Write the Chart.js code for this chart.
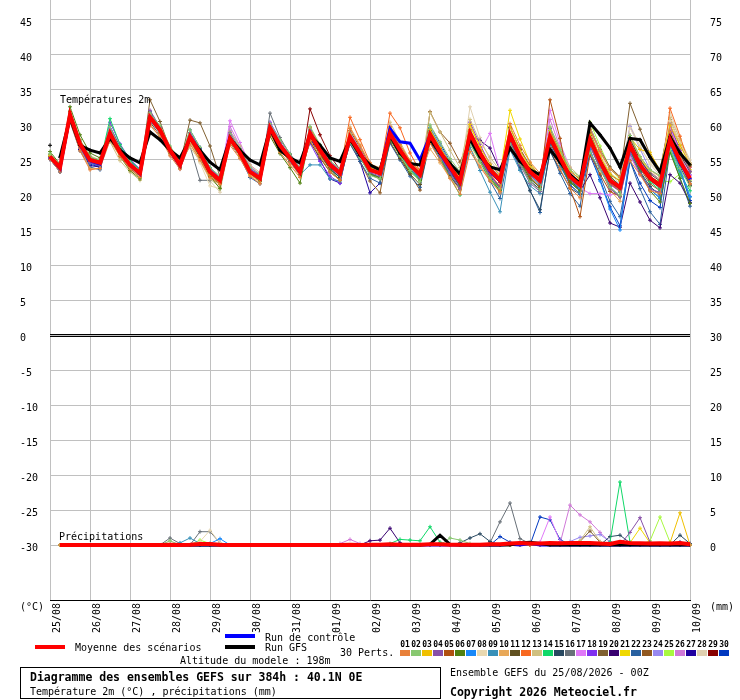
<!DOCTYPE html>
<html><head><meta charset="utf-8">
<script src="https://cdn.jsdelivr.net/npm/chart.js@4.4.1/dist/chart.umd.min.js"></script>
<style>html,body{margin:0;padding:0;background:#fff}canvas{display:block}</style>
</head><body>
<canvas id="c" width="740" height="700"></canvas>
<script>
const dayLabels = ['25/08','26/08','27/08','28/08','29/08','30/08','31/08','01/09','02/09','03/09','04/09','05/09','06/09','07/09','08/09','09/09','10/09'];
const hours = [0,6,12,18,24,30,36,42,48,54,60,66,72,78,84,90,96,102,108,114,120,126,132,138,144,150,156,162,168,174,180,186,192,198,204,210,216,222,228,234,240,246,252,258,264,270,276,282,288,294,300,306,312,318,324,330,336,342,348,354,360,366,372,378,384];
const leftTicks = [-30,-25,-20,-15,-10,-5,0,5,10,15,20,25,30,35,40,45];
const rightTicks = [0,5,10,15,20,25,30,35,40,45,50,55,60,65,70,75];

const tMean = [25.5,23.9, 31.5,27.3,25.0,24.6, 28.8,26.1,24.3,23.1, 31.1,29.3,26.4,24.3, 28.3,26.0,23.3,22.1, 28.1,26.0,23.3,22.4, 29.6,27.1,25.3,23.3, 28.8,26.4,24.3,23.1, 28.3,26.0,23.6,23.1, 28.8,26.4,24.3,22.9, 28.6,26.2,24.0,21.9, 28.8,26.0,23.6,22.1, 28.6,25.5,23.3,22.1, 28.3,25.3,22.6,21.4, 27.9,24.8,22.1,21.1, 27.1,24.3,22.4,21.4, 27.9,24.8,22.4];
const tGfs = [27.1,25.4, 31.0,27.1,26.4,26.0, 28.1,26.4,25.3,24.6, 29.0,27.9,26.4,25.3, 28.0,26.4,24.7,23.6, 28.1,26.4,25.0,24.3, 29.5,26.4,25.3,24.6, 28.5,27.1,25.3,24.8, 28.0,25.7,24.3,23.6, 28.5,26.0,24.5,24.3, 28.0,26.0,24.5,23.0, 28.0,25.5,24.0,23.6, 26.7,24.8,23.6,22.9, 26.5,24.7,22.9,21.7, 30.3,28.6,26.7,24.0, 28.1,27.9,25.4,23.3, 28.3,26.0,24.3];
const tCtl = [25.5,23.8, 31.4,27.2,24.9,24.4, 28.8,26.2,24.3,23.0, 31.0,29.2,26.3,24.2, 28.3,26.0,23.3,22.1, 28.2,26.0,23.3,22.4, 29.5,27.0,25.2,23.2, 28.8,26.4,24.2,23.0, 28.3,26.0,23.6,23.1, 29.5,27.6,27.4,25.0, 28.5,26.0,23.8,21.8, 28.6,25.8,23.4,22.0, 28.4,25.4,23.2,22.0, 28.2,25.2,22.6,21.4, 28.0,24.8,22.0,21.0, 27.0,24.2,22.4,21.4, 27.8,24.6,22.2];

const t01 = [25.1,23.3, 30.5,26.3,23.6,23.8, 27.8,25.5,23.7,22.5, 30.1,28.3,25.6,23.7, 27.3,25.0,22.5,21.5, 27.1,25.2,22.7,21.6, 28.8,26.1,24.3,22.5, 27.8,25.6,23.3,22.1, 29.5,27.0,24.4,23.7, 29.8,27.2,24.9,23.5, 27.4,25.0,22.4,20.1, 26.2,24.0,22.0,20.5, 30.2,27.1,24.7,23.1, 26.7,23.7,21.0,19.6, 29.3,26.2,23.7,22.5, 24.9,22.9,20.6,20.2, 29.1,25.8,21.6];
const t02 = [25.9,24.3, 32.1,27.9,25.4,25.0, 29.8,26.7,24.7,23.5, 31.7,29.9,27.0,24.9, 29.3,26.8,23.9,22.7, 28.7,26.6,23.9,23.0, 30.2,27.9,25.9,23.9, 29.8,27.2,24.9,23.7, 27.5,25.4,22.8,22.3, 28.2,25.6,23.5,21.9, 30.0,27.6,25.2,23.3, 27.2,24.8,22.4,20.9, 27.4,24.5,21.9,20.7, 29.7,26.5,23.6,22.6, 26.1,23.6,21.1,19.9, 28.5,25.5,23.6,22.8, 26.5,23.8,21.2];
const t03 = [25.6,24.0, 31.4,27.2,24.9,24.5, 28.6,26.0,24.2,23.0, 30.8,29.0,26.2,24.1, 27.9,25.7,23.0,21.9, 27.8,25.7,23.0,22.2, 29.4,26.9,25.1,23.1, 28.5,26.2,24.1,22.9, 28.7,26.3,23.9,23.5, 29.6,27.1,24.9,23.4, 29.4,26.8,24.6,22.5, 30.1,26.9,24.4,22.9, 29.8,26.4,24.0,22.8, 29.2,26.0,23.4,22.3, 28.6,25.6,23.0,22.0, 28.2,26.5,26.1,23.5, 30.0,27.1,24.3];
const t04 = [25.3,23.7, 31.1,26.7,24.6,24.2, 29.2,26.3,24.5,23.3, 32.1,29.7,26.6,24.5, 28.9,26.4,23.7,22.5, 28.9,26.6,23.7,22.8, 30.0,27.5,25.5,23.5, 29.2,26.8,24.7,23.5, 27.7,25.6,23.2,22.7, 29.0,26.8,24.5,22.5, 27.8,25.6,23.2,20.9, 28.0,25.2,22.8,21.1, 27.2,24.3,21.7,20.5, 29.5,25.7,23.0,21.8, 27.1,23.8,20.9,19.7, 25.9,23.1,20.8,20.4, 30.1,26.4,23.4];
const t05 = [25.5,24.0, 31.9,27.5,25.1,24.7, 28.5,25.9,24.1,22.9, 30.9,28.9,26.1,24.0, 28.0,25.6,22.9,21.7, 28.0,25.8,23.1,22.1, 29.4,26.9,25.0,23.0, 28.5,26.1,24.0,22.8, 28.4,26.2,23.7,23.2, 29.0,26.6,24.4,22.8, 28.9,26.6,24.3,22.2, 29.3,26.4,24.0,22.5, 28.0,25.0,22.6,21.2, 33.6,28.1,21.0,16.9, 25.8,23.0,20.5,19.8, 27.5,24.6,22.7,21.7, 28.6,25.1,21.6];
const t06 = [26.2,24.4, 32.6,28.6,26.0,25.3, 28.4,25.5,23.5,22.3, 30.9,28.9,26.0,24.1, 27.9,25.6,22.7,20.9, 27.7,25.6,23.1,22.0, 28.4,25.9,23.9,21.7, 28.4,25.8,23.7,22.1, 28.1,25.6,23.0,22.5, 28.0,25.6,23.3,22.1, 29.2,26.6,23.6,21.3, 27.8,25.0,22.4,20.7, 28.2,24.9,22.3,21.1, 27.7,24.7,21.8,20.6, 28.5,25.2,22.7,21.3, 26.5,23.3,20.6,19.0, 26.1,22.4,18.8];
const t07 = [25.3,23.5, 31.2,27.0,24.6,24.2, 29.2,26.4,24.6,23.4, 31.3,29.4,26.5,24.5, 28.5,26.1,23.4,22.3, 28.3,26.2,23.5,22.5, 29.8,27.3,25.5,23.5, 29.2,26.8,24.7,23.4, 28.7,26.4,23.9,23.3, 29.4,26.9,24.7,23.0, 29.6,27.0,24.6,22.1, 29.0,26.2,23.7,22.0, 28.2,25.0,22.8,21.4, 28.6,25.4,22.4,20.9, 26.6,22.0,18.0,15.0, 26.4,23.2,20.8,19.6, 27.4,23.8,19.8];
const t08 = [25.6,24.0, 31.6,27.4,25.0,24.5, 28.4,25.7,24.0,22.8, 30.7,28.6,25.8,23.7, 27.5,24.6,21.3,20.9, 27.6,25.4,22.8,21.8, 29.5,27.0,25.2,23.2, 28.8,26.4,24.3,23.2, 28.6,26.3,23.9,23.4, 29.4,27.0,24.7,23.1, 29.8,27.0,24.5,22.4, 29.5,26.6,24.2,22.6, 29.4,26.2,23.9,22.6, 28.8,25.8,23.2,22.0, 28.4,25.4,22.8,21.7, 29.6,26.8,24.6,23.2, 30.6,27.4,24.6];
const t09 = [25.4,23.7, 31.0,26.9,24.7,24.3, 28.4,25.9,24.1,22.9, 30.6,28.7,26.0,24.0, 28.0,25.7,23.0,21.9, 28.0,25.9,23.2,22.3, 29.2,26.7,24.9,22.9, 24.3,24.3,22.3,22.0, 27.6,25.3,23.0,22.5, 28.4,26.0,23.8,22.4, 28.0,25.5,23.1,20.9, 26.8,23.5,20.4,17.6, 26.5,23.5,21.3,20.2, 27.0,24.2,21.5,20.2, 27.2,24.0,21.2,19.8, 26.2,23.2,20.8,19.5, 26.8,23.4,19.7];
const t10 = [25.5,23.7, 30.9,26.7,23.8,23.8, 28.6,25.9,23.9,22.7, 31.5,29.5,26.8,24.7, 27.7,25.0,22.7,21.7, 27.7,25.6,22.9,22.0, 29.0,26.5,24.7,22.7, 29.2,26.8,24.5,23.3, 29.7,27.2,24.4,23.9, 29.2,27.0,24.7,22.9, 26.6,24.6,22.4,20.7, 26.8,24.2,22.2,20.3, 29.2,26.1,23.9,22.7, 28.7,25.5,22.4,21.0, 27.3,24.0,20.7,19.1, 28.5,25.3,23.6,22.6, 30.5,27.6,24.4];
const t11 = [25.7,24.2, 30.9,27.7,25.4,24.9, 28.0,25.6,23.8,22.6, 30.4,28.6,25.8,23.8, 27.6,25.4,22.7,21.5, 27.4,25.5,22.8,21.9, 29.0,26.6,24.7,22.8, 27.6,25.3,23.3,22.1, 27.7,25.4,22.9,22.3, 27.6,25.2,23.0,21.5, 27.6,25.5,22.8,20.8, 28.2,25.0,22.4,21.0, 29.6,26.3,23.9,22.5, 27.6,24.9,22.0,20.9, 28.9,25.4,22.9,22.0, 27.9,25.1,23.0,22.0, 29.0,25.8,23.3];
const t12 = [25.5,23.9, 31.6,27.4,25.0,24.6, 29.0,26.3,24.4,23.2, 31.0,29.2,26.3,24.2, 28.4,26.1,23.3,22.1, 28.2,26.1,23.4,22.5, 29.7,27.2,25.3,23.3, 29.6,27.0,24.7,23.4, 31.1,27.9,24.6,23.5, 31.7,29.6,26.0,23.4, 28.8,26.3,24.0,21.6, 28.1,25.3,22.9,21.3, 28.3,25.2,22.8,21.6, 28.8,25.6,22.8,21.5, 27.3,24.2,21.6,20.6, 27.5,24.5,22.4,21.3, 32.4,28.4,24.0];
const t13 = [25.7,24.3, 31.9,27.9,25.6,25.0, 27.6,24.9,23.3,22.1, 29.9,28.3,26.0,24.5, 26.9,24.8,22.3,21.1, 29.1,27.0,24.3,23.2, 29.4,26.9,24.9,23.1, 27.8,25.4,23.3,22.1, 28.7,26.2,23.8,23.3, 30.4,27.6,24.9,23.1, 31.8,29.0,26.4,23.9, 30.8,27.6,25.4,23.5, 29.0,26.1,23.7,22.5, 29.7,26.7,24.0,22.6, 29.7,26.4,23.7,22.5, 28.1,25.5,23.4,22.2, 31.1,28.0,24.6];
const t14 = [25.7,24.1, 31.3,27.3,25.0,24.5, 30.9,27.2,25.0,23.6, 31.2,29.3,26.5,24.4, 28.6,26.2,23.4,22.2, 28.3,26.0,23.3,22.5, 29.5,27.0,25.1,23.1, 29.3,26.6,24.3,23.0, 28.4,26.2,23.8,23.0, 28.6,26.0,23.6,22.2, 28.0,25.3,22.6,20.0, 27.8,24.8,22.3,20.6, 29.4,26.0,23.3,21.6, 27.8,24.6,22.0,20.6, 28.0,24.8,22.0,20.4, 27.2,24.1,21.9,20.7, 26.4,23.0,20.6];
const t15 = [25.4,23.7, 31.1,26.9,24.6,24.1, 28.5,25.8,24.0,22.8, 30.6,28.6,26.0,23.9, 27.9,25.6,23.0,21.8, 27.8,25.6,23.0,22.1, 29.0,26.6,24.8,22.8, 28.3,25.9,23.7,22.5, 27.8,25.5,23.1,22.5, 28.2,25.8,23.7,22.2, 28.4,25.8,23.4,21.2, 28.0,25.2,22.8,21.2, 27.4,24.0,20.6,17.9, 26.2,23.6,21.0,20.1, 27.4,24.2,21.6,20.6, 26.4,23.4,21.2,20.0, 27.6,24.0,21.4];
const t16 = [25.5,23.9, 31.4,27.2,24.9,24.5, 28.9,26.1,24.3,23.1, 31.4,29.4,26.5,24.4, 27.0,22.1,22.1,22.4, 28.0,25.9,23.2,22.3, 31.7,28.2,25.8,23.6, 29.1,26.6,24.4,23.2, 28.0,25.8,23.5,23.0, 28.6,26.3,24.2,22.8, 29.0,26.5,24.1,22.0, 28.8,25.8,23.4,21.9, 28.0,24.8,22.4,21.0, 27.6,24.6,21.8,20.6, 28.2,24.9,22.3,21.1, 27.0,24.0,22.2,21.0, 27.8,24.5,21.9];
const t17 = [25.6,24.0, 31.6,27.5,25.2,24.7, 29.4,26.5,24.6,23.3, 31.5,29.5,26.6,24.5, 28.6,26.3,23.6,22.4, 30.6,27.5,24.3,22.9, 30.2,27.6,25.6,23.6, 29.4,27.0,24.8,23.5, 28.8,26.5,24.1,23.6, 29.8,27.2,24.9,23.3, 29.2,26.8,24.4,22.2, 27.6,26.2,28.8,23.4, 28.4,25.4,23.0,21.8, 32.1,27.4,23.9,21.0, 20.2,20.2,20.0,20.4, 27.8,24.8,22.8,21.6, 29.6,26.2,22.8];
const t18 = [25.3,23.6, 30.9,26.9,24.6,24.2, 30.4,27.3,25.1,23.7, 30.5,28.5,25.8,23.7, 28.5,26.0,23.3,21.9, 28.7,26.4,23.7,22.8, 30.4,27.9,25.9,23.9, 27.4,24.8,22.7,21.7, 28.5,26.0,23.4,22.9, 29.4,26.8,24.5,22.9, 28.4,25.8,23.2,21.3, 30.4,27.2,24.4,22.7, 28.8,25.7,23.3,21.9, 28.1,25.1,22.6,21.4, 27.7,24.4,21.5,20.5, 28.1,24.9,23.2,22.2, 29.7,26.2,24.0];
const t19 = [25.6,24.0, 31.5,27.3,25.1,24.6, 28.7,26.0,24.2,23.0, 33.6,30.5,26.6,24.4, 30.7,30.3,27.0,22.6, 28.2,26.1,23.4,22.4, 29.6,27.1,25.3,23.3, 28.8,26.4,24.3,23.1, 29.2,26.8,24.2,23.6, 29.5,26.9,24.6,23.2, 29.5,27.0,24.6,22.6, 29.0,26.2,23.7,22.2, 29.6,26.6,24.2,22.8, 29.2,26.2,23.5,22.2, 29.4,26.5,24.0,22.6, 33.1,29.4,25.8,23.6, 30.8,27.2,24.6];
const t20 = [25.5,23.9, 31.6,27.3,25.0,24.5, 28.9,26.2,24.4,23.2, 31.1,29.2,26.4,24.3, 28.1,25.8,23.2,22.0, 27.8,25.7,23.0,22.2, 29.4,27.0,25.2,23.2, 28.9,26.5,24.4,23.2, 28.1,25.9,23.6,23.0, 28.8,26.5,24.3,22.8, 28.4,26.0,23.9,22.0, 28.5,27.8,26.7,23.6, 27.6,24.6,22.0,20.8, 27.2,24.2,21.8,20.6, 22.9,19.6,16.0,15.4, 21.7,19.0,16.4,15.3, 22.9,21.7,18.9];
const t21 = [25.5,23.9, 31.4,27.1,24.7,24.4, 28.6,26.0,24.2,23.0, 31.0,29.0,26.2,24.2, 28.0,25.6,23.0,21.9, 27.6,25.6,23.0,22.2, 29.2,26.8,25.0,23.1, 29.2,26.8,24.6,23.3, 28.6,26.2,23.8,23.3, 29.2,26.7,24.5,23.1, 29.1,26.7,24.4,22.4, 29.8,26.9,24.4,22.8, 32.1,28.0,24.6,22.6, 28.0,25.0,22.5,21.4, 28.0,24.9,22.1,21.2, 27.9,25.2,23.3,22.2, 29.6,26.6,23.6];
const t22 = [25.1,23.3, 30.5,26.3,24.0,23.6, 28.8,26.3,24.5,23.3, 31.9,29.7,26.8,24.7, 29.3,26.8,23.9,22.5, 27.5,25.4,22.5,21.6, 29.6,27.3,25.5,23.7, 28.4,25.9,23.7,22.5, 27.3,24.8,22.4,21.7, 27.4,25.0,22.7,21.1, 27.6,25.0,22.6,20.9, 27.6,24.8,22.0,19.5, 27.0,23.7,20.7,17.5, 26.5,23.1,20.2,18.4, 26.5,22.8,19.1,16.9, 24.9,20.9,17.6,15.8, 26.5,22.4,18.4];
const t23 = [25.6,24.0, 31.6,27.5,25.2,24.8, 28.6,25.9,24.1,22.9, 31.6,29.5,26.5,24.3, 28.2,25.9,23.2,22.0, 28.2,26.0,23.3,22.4, 29.5,27.0,25.1,23.1, 28.7,26.2,23.9,22.5, 27.4,24.8,22.0,20.3, 28.0,25.6,23.0,20.7, 31.9,29.0,27.4,24.7, 28.0,25.3,23.0,21.8, 28.4,25.4,23.1,21.8, 28.0,25.1,22.4,21.0, 27.0,23.8,21.0,19.8, 27.0,23.8,21.6,20.6, 28.4,24.8,21.4];
const t24 = [25.6,23.7, 31.6,27.6,25.3,24.6, 29.3,26.5,24.5,23.3, 31.3,29.3,26.4,24.3, 28.4,26.3,23.6,22.4, 29.2,26.9,24.0,23.0, 30.3,27.8,25.8,23.8, 29.3,26.9,24.8,23.6, 28.9,26.5,24.1,23.4, 29.7,27.1,24.8,23.2, 29.3,26.9,24.5,22.6, 29.5,26.5,24.1,22.6, 29.3,26.2,23.6,22.4, 29.0,25.9,23.4,22.3, 28.2,25.3,22.4,21.6, 29.8,26.6,23.6,22.6, 28.6,25.3,22.9];
const t25 = [25.6,24.0, 31.3,27.2,24.9,24.5, 28.7,26.1,24.3,23.1, 31.0,29.1,26.3,24.3, 28.2,25.9,23.2,22.0, 28.1,26.0,23.3,22.4, 29.8,27.2,25.4,23.4, 29.6,27.0,24.8,23.5, 28.8,26.4,24.0,23.4, 29.4,26.9,24.7,23.2, 28.9,26.4,24.1,22.1, 29.2,26.4,24.0,22.5, 28.6,25.5,23.3,22.2, 28.4,25.4,22.7,21.6, 30.4,27.0,23.8,22.2, 26.9,24.0,22.3,22.0, 21.9,23.0,22.0];
const t26 = [25.5,23.9, 31.3,27.2,24.9,24.5, 28.9,26.2,24.3,23.1, 30.9,29.0,26.2,24.2, 28.4,26.0,23.3,22.1, 29.8,27.0,24.0,22.8, 29.3,26.9,25.0,23.1, 28.8,26.4,24.2,23.0, 28.3,25.9,23.6,23.1, 29.0,26.5,24.3,22.8, 28.3,26.0,23.7,21.8, 28.5,25.7,23.3,21.9, 29.2,25.9,23.6,22.4, 30.8,26.8,23.4,21.4, 28.2,25.1,22.4,21.2, 25.6,22.9,21.0,20.2, 29.9,26.0,22.2];
const t27 = [25.2,23.5, 30.7,26.5,24.2,24.0, 29.8,26.9,24.9,23.5, 30.9,28.9,26.0,23.9, 28.9,26.6,23.7,22.3, 28.5,26.4,23.5,22.4, 29.8,27.3,25.1,23.1, 28.4,25.0,22.3,21.7, 28.1,24.8,20.3,21.7, 29.2,26.4,24.1,22.3, 28.2,25.6,23.2,21.7, 28.6,25.4,22.8,21.1, 29.4,26.5,23.9,22.7, 27.7,24.5,21.4,20.2, 29.7,26.4,23.7,22.5, 28.5,24.9,22.8,21.4, 29.3,25.6,22.4];
const t28 = [25.6,24.0, 31.7,27.5,25.1,24.6, 28.5,25.8,24.0,22.8, 30.9,28.9,26.1,24.1, 27.8,25.3,22.0,20.4, 27.5,25.4,22.9,22.0, 29.3,26.8,25.0,23.0, 28.9,26.5,24.4,23.2, 29.0,26.5,24.1,23.5, 29.5,26.9,24.6,23.2, 29.7,27.1,24.7,22.6, 32.6,28.2,25.0,23.0, 29.6,26.4,24.0,22.6, 29.4,26.2,23.4,22.2, 29.2,26.0,23.2,22.0, 30.0,27.0,24.4,22.8, 31.8,28.0,25.0];
const t29 = [25.5,23.9, 31.5,27.3,25.0,24.6, 28.7,26.0,24.2,23.0, 31.3,29.4,26.5,24.4, 28.2,25.9,23.2,22.0, 28.0,25.9,23.2,22.3, 29.5,27.0,25.2,23.2, 32.3,28.6,25.6,23.6, 28.6,26.2,23.8,23.2, 29.0,26.6,24.4,23.0, 28.8,26.4,24.1,22.0, 28.9,26.1,23.7,22.2, 28.7,25.6,23.3,22.1, 28.5,25.4,22.7,21.5, 27.8,24.7,22.0,21.0, 26.8,24.0,22.1,21.0, 28.0,24.8,22.2];
const t30 = [25.1,23.3, 31.1,26.7,24.4,24.0, 29.4,26.7,24.7,23.5, 31.7,29.7,26.8,24.5, 28.5,26.0,23.5,22.3, 28.7,26.4,23.7,22.8, 30.0,27.5,25.5,23.5, 29.6,27.0,24.7,23.5, 28.7,26.0,23.6,22.9, 29.4,26.8,24.5,22.9, 29.8,27.4,24.8,21.9, 28.0,25.6,22.8,20.3, 29.0,25.7,23.1,21.7, 28.1,25.1,22.4,20.6, 25.7,22.2,18.3,15.6, 24.9,21.7,19.2,18.2, 27.3,23.6,19.2];

// precipitation (mm), 6-hourly, first step empty
const pNone = [null, 0,0,0,0, 0,0,0,0, 0,0,0,0, 0,0,0,0, 0,0,0,0, 0,0,0,0, 0,0,0,0, 0,0,0,0, 0,0,0,0, 0,0,0,0, 0,0,0,0, 0,0,0,0, 0,0,0,0, 0,0,0,0, 0,0,0,0, 0,0,0,0];
const pMean = [null, 0,0,0,0, 0,0,0,0, 0,0,0,0.05, 0,0.05,0.15,0.15, 0.05,0,0,0, 0,0,0,0, 0,0,0,0, 0,0.03,0,0.02, 0.03,0.1,0.02,0.03, 0.03,0.1,0.1,0.05, 0.05,0.05,0.05,0.1, 0.1,0.2,0.3,0.2, 0.2,0.3,0.25,0.3, 0.3,0.3,0.2,0.15, 0.45,0.3,0.25,0.2, 0.25,0.2,0.3,0.1];
const pGfs = [null, 0,0,0,0, 0,0,0,0, 0,0,0,0, 0,0,0,0, 0,0,0,0, 0,0,0,0, 0,0,0,0, 0,0,0,0, 0,0,0,0, 0,0.1,1.4,0.1, 0,0,0,0, 0,0,0.3,0.4, 0.2,0,0,0, 0,0,0,0, 0,0,0,0, 0,0,0,0];
const pCtl = [null, 0,0,0,0, 0,0,0,0, 0,0,0,0, 0,0,0,0, 0,0,0,0, 0,0,0,0, 0,0,0,0, 0,0,0,0, 0,0,0,0, 0,0,0,0, 0,0,0,0, 0,0.1,0,0.2, 0,0,0,0, 0,0,0,0, 0,0,0,0, 0,0,0,0];
const p02 = [null, 0,0,0,0, 0,0,0,0, 0,0,0,0.6, 0,0,0,0, 0,0,0,0, 0,0,0,0, 0,0,0,0, 0,0,0,0, 0,0,0,0, 0,0,0,1.0, 0.7,0.2,0,0, 0,0,0,0, 0,0,0,0, 0,0,0,0, 0,0,0,0, 0,0,0,0];
const p03 = [null, 0,0,0,0, 0,0,0,0, 0,0,0,0, 0,0,0,0, 0,0,0,0, 0,0,0,0, 0,0,0,0, 0,0,0,0, 0,0,0,0, 0,0,0,0, 0,0,0,0, 0,0,0,0, 0,0,0,0, 0,0,0,0, 0,0,0,0, 0.1,0.3,4.6,0];
const p04 = [null, 0,0,0,0, 0,0,0,0, 0,0,0,0, 0,0,0,0, 0,0,0,0, 0,0,0,0, 0,0,0,0, 0,0,0,0, 0,0,0,0, 0,0,0,0, 0,0,0,0, 0,0,0,0, 0,0,0,0, 0,0,0,0, 0,1.8,3.9,0.4, 0,0,0,0];
const p07 = [null, 0,0,0,0, 0,0,0,0, 0,0,0,0, 0,0,0,0.2, 0.9,0,0,0, 0,0,0,0, 0,0,0,0, 0,0,0,0, 0,0,0,0, 0,0,0,0, 0,0,0,0, 0,0,0,0, 0,0,0,0, 0,0,0,0, 0,0,0,0, 0,0,0,0];
const p08 = [null, 0,0,0,0, 0,0,0,0, 0,0,0,0, 0,0,0.5,2.1, 0.3,0,0,0, 0,0,0,0, 0,0,0,0, 0,0,0,0, 0,0,0,0, 0,0,0,0, 0,0,0,0, 0,0,0,0, 0,0,0,0, 0,0,0,0, 0,0,0,0, 0,0,0,0];
const p09 = [null, 0,0,0,0, 0,0,0,0, 0,0,0,0, 0.3,1.0,0.2,0, 0,0,0,0, 0,0,0,0, 0,0,0,0, 0,0,0,0, 0,0,0,0, 0,0,0,0, 0,0,0,0, 0,0,0,0, 0,0,0,0, 0,0,0,0, 0,0,0,0, 0,0,0,0];
const p13 = [null, 0,0,0,0, 0,0,0,0, 0,0,0,0, 0,0,0,0, 0,0,0,0, 0,0,0,0, 0,0,0,0, 0,0,0,0, 0,0,0,0, 0,0,0,0, 0,0,0,0, 0,0,0,0, 0,0,0,0, 0.6,2.6,0.5,0, 0,0,0,0, 0,0,0,0];
const p14 = [null, 0,0,0,0, 0,0,0,0, 0,0,0,0, 0,0,0,0, 0,0,0,0, 0,0,0,0, 0,0,0,0, 0,0,0,0, 0,0.2,0.8,0.7, 0.6,2.6,0.4,0, 0,0,0,0, 0,0,0,0, 0,0,0,0, 0,0,0,0.4, 9.0,0.4,0,0, 0,0,0,0];
const p15 = [null, 0,0,0,0, 0,0,0,0, 0,0,0,0, 0,0,0,0, 0,0,0,0, 0,0,0,0, 0,0,0,0, 0,0,0,0, 0,0,0,0, 0,0,0,0, 0.3,1.0,1.6,0.5, 0,0,0,0, 0,0,0,0, 0,0,0,1.2, 1.4,0.3,0,0, 0,0,1.4,0.2];
const p16 = [null, 0,0,0,0, 0,0,0,0, 0,0,0,1.0, 0.2,0,1.9,1.9, 0.3,0,0,0, 0,0,0,0, 0,0,0,0, 0,0,0,0, 0,0,0,0, 0,0,0,0, 0,0,0,0.3, 3.3,6.0,0.9,0.2, 0,0,0,0, 0,0,0,0, 0,0,0,0, 0,0,0,0];
const p17 = [null, 0,0,0,0, 0,0,0,0, 0,0,0,0, 0,0,0,0, 0,0,0,0, 0,0,0,0, 0,0,0,0, 0,0,0,0, 0,0,0,0, 0,0,0,0, 0,0,0,0, 0,0,0,0, 0.4,4.0,0.5,0, 0,0,0,0, 0,0,0,0, 0,0,0,0];
const p19 = [null, 0,0,0,0, 0,0,0,0, 0,0,0,0, 0,0,0,0, 0,0,0,0, 0,0,0,0, 0,0,0,0, 0,0,0,0, 0,0,0,0, 0,0,0,0, 0,0,0,0, 0,0,0,0, 0,0,0,0, 0.5,2.0,0.4,0, 0,0,0,0, 0,0,0,0];
const p20 = [null, 0,0,0,0, 0,0,0,0, 0,0,0,0, 0,0,0,0, 0,0,0,0, 0,0,0,0, 0,0,0,0, 0,0,0,0.6, 0.7,2.4,0.3,0, 0,0,0,0, 0,0,0,0, 0,0,0,0, 0,0,0,0, 0,0,0,0, 0,0,0,0, 0,0,0,0];
const p21 = [null, 0,0,0,0, 0,0,0,0, 0,0,0,0, 0,0,0,0, 0,0,0,0, 0,0,0,0, 0,0,0,0, 0,0,0,0, 0,0,0,0, 0,0,0,0, 0,0,0,0, 0,0,0,0, 0,0,0,0, 0,0,0,0, 0,0.3,2.4,0.3, 0,0,0,0];
const p24 = [null, 0,0,0,0, 0,0,0,0, 0,0,0,0, 0,0,0,0, 0,0,0,0, 0,0,0,0, 0,0,0,0, 0,0,0,0, 0,0,0,0, 0,0,0,0, 0,0,0,0, 0,0,0,0, 0,0,0,0.5, 1.1,1.3,1.5,0.5, 0,0,0,0, 0,0,0,0];
const p25 = [null, 0,0,0,0, 0,0,0,0, 0,0,0,0, 0,0,0.7,0.2, 0,0,0,0, 0,0,0,0, 0,0,0,0, 0,0,0,0, 0,0,0,0, 0,0,0,0, 0,0,0,0, 0,0,0,0, 0,0,0,0, 0,0,0,0, 0,0,0,0.6, 4.0,0.4,0,0];
const p26 = [null, 0,0,0,0, 0,0,0,0, 0,0,0,0, 0,0,0,0, 0,0,0,0, 0,0,0,0, 0,0,0,0, 0.2,0.8,0.2,0, 0,0,0,0, 0,0,0,0, 0,0,0,0, 0,0,0,0, 0,0,0.2,5.7, 4.3,3.3,1.8,0.4, 0,0,0,0, 0,0,0,0];
const p27 = [null, 0,0,0,0, 0,0,0,0, 0,0,0,0, 0,0,0,0, 0,0,0,0, 0,0,0,0, 0,0,0,0, 0,0,0,0, 0,0,0,0, 0,0,0,0, 0,0,0,0, 0,0,0,0, 0,0,0,0, 0,0,0,0, 0,0,0,0, 0,0.3,0.4,0];
const p30 = [null, 0,0,0,0, 0,0,0,0, 0,0,0,0, 0,0,0,0, 0,0,0,0, 0,0,0,0, 0,0,0,0, 0,0,0,0, 0,0,0,0, 0,0,0,0, 0,0,0,0, 1.2,0.4,0,0, 4.0,3.6,0.8,0, 0,0,0,0, 0,0,0,0, 0,0,0,0];

const memberTemps = [t01,t02,t03,t04,t05,t06,t07,t08,t09,t10,t11,t12,t13,t14,t15,t16,t17,t18,t19,t20,t21,t22,t23,t24,t25,t26,t27,t28,t29,t30];
const memberPrecip = [pNone,p02,p03,p04,pNone,pNone,p07,p08,p09,pNone,pNone,pNone,p13,p14,p15,p16,p17,pNone,p19,p20,p21,pNone,pNone,p24,p25,p26,p27,pNone,pNone,p30];
const memberColors = ['#e8803a','#88c870','#f0c000','#8850a8','#b05010','#508010','#1888f8','#e8d8b0','#3890b8','#e8a858','#605020','#f86820','#d0c080','#10d868','#284860','#687078','#e078f8','#8030f0','#806030','#380070','#f0d800','#2860a0','#905820','#9888f0','#a8f840','#d078d8','#2000a0','#e0d0b0','#880000','#0038c0'];

const MONO = '"DejaVu Sans Mono", "Liberation Mono", monospace';
const datasets = [];
datasets.push({data:tMean, yAxisID:'y', borderColor:'#ff0000', borderWidth:4, pointRadius:0, order:0});
datasets.push({data:pMean, yAxisID:'yR', borderColor:'#ff0000', borderWidth:4, pointRadius:0, order:0});
datasets.push({data:tGfs, yAxisID:'y', borderColor:'#000000', borderWidth:3, pointRadius:2, pointStyle:'cross', pointBorderWidth:1, pointBorderColor:'#000', order:1,
  segment:{borderColor:(c)=> c.p0DataIndex === 0 ? 'rgba(0,0,0,0)' : undefined}});
datasets.push({data:pGfs, yAxisID:'yR', borderColor:'#000000', borderWidth:3, pointRadius:0, order:1});
datasets.push({data:tCtl, yAxisID:'y', borderColor:'#0000ff', borderWidth:3, pointRadius:0, order:2});
datasets.push({data:pCtl, yAxisID:'yR', borderColor:'#0000ff', borderWidth:3, pointRadius:0, order:2});
memberTemps.forEach((arr,k)=>{
  datasets.push({data:arr, yAxisID:'y', borderColor:memberColors[k], borderWidth:1, pointStyle:'cross', pointRadius:2, pointBorderWidth:1, pointBorderColor:memberColors[k], order:3});
});
memberPrecip.forEach((arr,k)=>{
  datasets.push({data:arr, yAxisID:'yR', borderColor:memberColors[k], borderWidth:1, pointStyle:'cross', pointRadius:2, pointBorderWidth:1, pointBorderColor:memberColors[k], order:3});
});

const decor = {
  id:'decor',
  beforeDatasetsDraw(chart){
    const {ctx, chartArea:a, scales} = chart;
    const y0 = Math.round(scales.y.getPixelForValue(0));
    ctx.save();
    ctx.strokeStyle = '#000'; ctx.lineWidth = 1;
    ctx.beginPath();
    ctx.moveTo(a.left, y0-0.5); ctx.lineTo(a.right, y0-0.5);
    ctx.moveTo(a.left, y0+1.5); ctx.lineTo(a.right, y0+1.5);
    ctx.stroke();
    ctx.restore();
  },
  afterDatasetsDraw(chart){
    const ctx = chart.ctx;
    ctx.save();
    ctx.fillStyle = '#000';
    ctx.font = '10px ' + MONO;
    ctx.textBaseline = 'alphabetic';
    ctx.textAlign = 'left';
    ctx.fillText('Températures 2m', 60, 103);
    ctx.fillText('Précipitations', 59, 540);
    ctx.restore();
  },
  afterDraw(chart){
    const ctx = chart.ctx;
    ctx.save();
    ctx.fillStyle = '#000';
    ctx.textAlign = 'left';
    ctx.textBaseline = 'alphabetic';
    ctx.font = '10px ' + MONO;
    ctx.fillText('(°C)', 20, 610);
    ctx.fillText('(mm)', 710, 610);
    ctx.lineWidth = 4;
    ctx.strokeStyle = '#ff0000';
    ctx.beginPath(); ctx.moveTo(35, 647); ctx.lineTo(65, 647); ctx.stroke();
    ctx.strokeStyle = '#0000ff';
    ctx.beginPath(); ctx.moveTo(225, 636); ctx.lineTo(255, 636); ctx.stroke();
    ctx.strokeStyle = '#000000';
    ctx.beginPath(); ctx.moveTo(225, 647); ctx.lineTo(255, 647); ctx.stroke();
    ctx.fillText('Moyenne des scénarios', 75, 651);
    ctx.fillText('Run de contrôle', 265, 641);
    ctx.fillText('Run GFS', 265, 651);
    ctx.fillText('30 Perts.', 340, 656);
    ctx.fillText('Altitude du modele : 198m', 180, 664);
    for (let k = 0; k < memberColors.length; k++) {
      const x = 400 + k*11;
      ctx.fillStyle = memberColors[k];
      ctx.fillRect(x, 650, 10, 6);
      ctx.fillStyle = '#000';
      ctx.font = 'bold 8px ' + MONO;
      ctx.textAlign = 'center';
      ctx.fillText(String(k+1).padStart(2,'0'), x+5, 647);
    }
    ctx.textAlign = 'left';
    ctx.strokeStyle = '#000'; ctx.lineWidth = 1;
    ctx.strokeRect(20.5, 667.5, 420, 31);
    ctx.font = 'bold 11.5px ' + MONO;
    ctx.fillText('Diagramme des ensembles GEFS sur 384h : 40.1N 0E', 30, 681);
    ctx.font = '10px ' + MONO;
    ctx.fillText('Température 2m (°C) , précipitations (mm)', 30, 695);
    ctx.fillText('Ensemble GEFS du 25/08/2026 - 00Z', 450, 676);
    ctx.font = 'bold 11.5px ' + MONO;
    ctx.fillText('Copyright 2026 Meteociel.fr', 450, 696);
    ctx.restore();
  }
};

const Y_MIN = -265/7, Y_MAX = 335/7;
const GRID = '#c0c0c0';
function noPad(s){ s.paddingTop = 0; s.paddingBottom = 0; s.paddingLeft = 0; s.paddingRight = 0; }

new Chart(document.getElementById('c'), {
  type:'line',
  data:{labels:hours, datasets},
  options:{
    responsive:false, animation:false, events:[],
    layout:{autoPadding:false, padding:{left:20, right:0, top:0, bottom:0}},
    elements:{line:{tension:0}},
    plugins:{legend:{display:false}, tooltip:{enabled:false}},
    scales:{
      x:{
        type:'category', offset:false,
        afterBuildTicks(s){ s.ticks = s.ticks.filter(t => t.value % 4 === 0); },
        afterFit(s){ s.height = 100; noPad(s); },
        grid:{color:GRID, lineWidth:1, drawTicks:false},
        border:{display:true, color:'#000', width:1},
        ticks:{autoSkip:false, minRotation:90, maxRotation:90, padding:3, labelOffset:7, color:'#000',
          font:{family:MONO, size:10}, callback:(v)=>dayLabels[v/4]}
      },
      y:{
        type:'linear', position:'left', min:Y_MIN, max:Y_MAX,
        afterBuildTicks(s){ s.ticks = leftTicks.map(v=>({value:v})); },
        afterFit(s){ s.width = 30; noPad(s); },
        grid:{color:GRID, lineWidth:1, drawTicks:false},
        border:{display:false},
        ticks:{crossAlign:'far', padding:0, labelOffset:3.5, color:'#000', font:{family:MONO, size:10}}
      },
      yR:{
        type:'linear', position:'right', min:Y_MIN+30, max:Y_MAX+30,
        afterBuildTicks(s){ s.ticks = rightTicks.map(v=>({value:v})); },
        afterFit(s){ s.width = 50; noPad(s); },
        grid:{display:false, drawTicks:false},
        border:{display:false},
        ticks:{crossAlign:'near', padding:20, labelOffset:3.5, color:'#000', font:{family:MONO, size:10}}
      }
    }
  },
  plugins:[decor]
});
</script>
</body></html>
